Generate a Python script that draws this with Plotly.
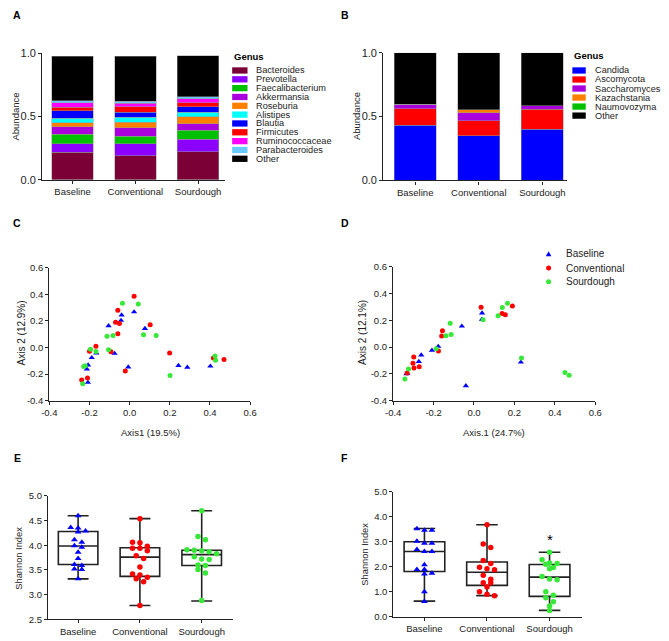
import plotly.graph_objects as go

W, H = 669, 641
FONT = "Liberation Sans, Arial, sans-serif"
INK = "#222222"

# ---------------- data ----------------
groups = ["Baseline", "Conventional", "Sourdough"]

bac_genus = ["Bacteroides", "Prevotella", "Faecalibacterium", "Akkermansia", "Roseburia",
             "Alistipes", "Blautia", "Firmicutes", "Ruminococcaceae", "Parabacteroides", "Other"]
bac_baseline = [0.218, 0.068, 0.075, 0.057, 0.031, 0.039, 0.057, 0.029, 0.034, 0.018, 0.351]
bac_conventional = [0.190, 0.093, 0.062, 0.068, 0.042, 0.041, 0.039, 0.042, 0.028, 0.018, 0.354]
bac_sourdough = [0.223, 0.099, 0.070, 0.052, 0.055, 0.036, 0.044, 0.029, 0.034, 0.015, 0.325]

fun_genus = ["Candida", "Ascomycota", "Saccharomyces", "Kazachstania", "Naumovozyma", "Other"]
fun_baseline = [0.431, 0.131, 0.033, 0.0, 0.0, 0.405]
fun_conventional = [0.351, 0.116, 0.064, 0.023, 0.0, 0.446]
fun_sourdough = [0.400, 0.156, 0.029, 0.0, 0.0, 0.415]

# PCoA (panel C)
c_base_x = [0.022, -0.040, -0.043, -0.105, 0.076, -0.166, -0.075, -0.189, -0.207, -0.213, -0.208, -0.007, 0.243, 0.287, 0.402]
c_base_y = [0.268, 0.244, 0.204, 0.163, 0.143, -0.041, -0.044, -0.076, -0.132, -0.162, -0.262, -0.147, -0.135, -0.149, -0.140]
c_conv_x = [0.022, -0.059, -0.070, -0.051, -0.059, 0.102, -0.168, -0.200, -0.093, -0.022, 0.199, -0.210, -0.239, 0.417, 0.470]
c_conv_y = [0.386, 0.281, 0.190, 0.180, 0.104, 0.172, 0.010, -0.027, -0.031, -0.176, -0.041, -0.228, -0.243, -0.078, -0.090]
c_sour_x = [-0.036, 0.043, -0.113, -0.083, 0.069, 0.132, -0.195, -0.168, -0.105, -0.221, -0.229, -0.234, 0.201, 0.425, 0.428]
c_sour_y = [0.332, 0.327, 0.084, 0.091, 0.096, 0.091, -0.012, -0.029, -0.017, -0.137, -0.142, -0.272, -0.211, -0.063, -0.095]

# PCoA (panel D)
d_base_x = [0.040, 0.039, -0.060, -0.177, -0.208, -0.261, -0.273, -0.334, -0.330, -0.040, 0.232]
d_base_y = [0.254, 0.207, 0.156, 0.005, -0.024, -0.059, -0.107, -0.200, -0.195, -0.288, -0.112]
d_conv_x = [0.035, 0.190, 0.139, 0.155, -0.156, -0.160, -0.176, -0.298, -0.302, -0.297, -0.271, -0.331]
d_conv_y = [0.298, 0.307, 0.251, 0.241, 0.122, 0.083, -0.029, -0.073, -0.120, -0.156, -0.146, -0.193]
d_sour_x = [0.166, 0.140, 0.119, 0.045, -0.118, -0.113, -0.139, -0.187, -0.324, -0.342, 0.235, 0.450, 0.471]
d_sour_y = [0.327, 0.295, 0.234, 0.205, 0.178, 0.095, 0.085, -0.012, -0.163, -0.237, -0.080, -0.190, -0.210]

# Shannon index (panel E, bacteria)
e_base = [4.60, 4.36, 4.35, 4.29, 4.27, 4.11, 4.06, 3.99, 3.96, 3.86, 3.73, 3.61, 3.59, 3.52, 3.51, 3.32]
e_conv = [4.54, 4.06, 4.05, 3.98, 3.94, 3.94, 3.89, 3.79, 3.73, 3.56, 3.42, 3.40, 3.35, 3.32, 3.26, 2.78]
e_sour = [4.70, 4.18, 4.11, 3.91, 3.90, 3.89, 3.87, 3.83, 3.77, 3.72, 3.71, 3.60, 3.59, 3.51, 3.44, 2.88]
e_q1 = [3.61, 3.37, 3.59]
e_med = [3.985, 3.76, 3.81]
e_q3 = [4.28, 3.95, 3.90]
e_lo = [3.32, 2.78, 2.87]
e_hi = [4.60, 4.54, 4.70]

# Shannon index (panel F, fungi)
f_base = [3.52, 3.46, 3.46, 3.02, 2.94, 2.94, 2.69, 2.61, 2.61, 2.08, 1.89, 1.89, 1.74, 1.71, 1.00, 0.61]
f_conv = [3.68, 2.91, 2.77, 2.25, 2.13, 1.98, 1.92, 1.88, 1.66, 1.50, 1.36, 1.36, 1.19, 1.00, 0.90, 0.84]
f_sour = [2.58, 2.28, 2.15, 2.13, 2.10, 1.97, 1.92, 1.61, 1.51, 1.48, 1.00, 0.86, 0.76, 0.60, 0.43, 0.25]
f_q1 = [1.81, 1.25, 0.81]
f_med = [2.61, 1.78, 1.58]
f_q3 = [3.00, 2.19, 2.09]
f_lo = [0.62, 0.84, 0.25]
f_hi = [3.53, 3.68, 2.58]

pcoa_ticks = [-0.4, -0.2, 0.0, 0.2, 0.4, 0.6]
pcoa_ticktext = ["-0.4", "-0.2", "0.0", "0.2", "0.4", "0.6"]

# ---------------- styles ----------------
bac_colors = ["#7A0035", "#8B00FF", "#00C000", "#AA00DD", "#FF8000", "#00FFFF",
              "#0000FF", "#FF0000", "#FF00FF", "#66CCFF", "#000000"]
fun_colors = ["#0000FF", "#FF0000", "#AA00DD", "#FF8000", "#00C000", "#000000"]
grp_colors = ["#0000FF", "#FF0000", "#38E838"]
grp_symbols = ["triangle-up", "circle", "circle"]


def px(x):
    return x / W


def py(y):
    return 1 - y / H


fig = go.Figure()

# ---- Panel A: stacked bars
for i, g in enumerate(bac_genus):
    fig.add_trace(go.Bar(
        x=groups, y=[bac_baseline[i], bac_conventional[i], bac_sourdough[i]],
        name=g, marker=dict(color=bac_colors[i], line=dict(color="#9a9a9a", width=0.5)),
        width=0.66, xaxis="x", yaxis="y", showlegend=False))

# ---- Panel B: stacked bars
for i, g in enumerate(fun_genus):
    fig.add_trace(go.Bar(
        x=groups, y=[fun_baseline[i], fun_conventional[i], fun_sourdough[i]],
        name=g, marker=dict(color=fun_colors[i], line=dict(color="#9a9a9a", width=0.5)),
        width=0.66, xaxis="x2", yaxis="y2", showlegend=False))

# ---- Panel C / D: PCoA scatter
c_sets = [(c_base_x, c_base_y), (c_conv_x, c_conv_y), (c_sour_x, c_sour_y)]
d_sets = [(d_base_x, d_base_y), (d_conv_x, d_conv_y), (d_sour_x, d_sour_y)]
for k in range(3):
    sz = 5.5 if k == 0 else 5
    fig.add_trace(go.Scatter(x=c_sets[k][0], y=c_sets[k][1], mode="markers", name=groups[k],
                             marker=dict(color=grp_colors[k], symbol=grp_symbols[k], size=sz),
                             xaxis="x3", yaxis="y3", showlegend=False))
    fig.add_trace(go.Scatter(x=d_sets[k][0], y=d_sets[k][1], mode="markers", name=groups[k],
                             marker=dict(color=grp_colors[k], symbol=grp_symbols[k], size=sz),
                             xaxis="x4", yaxis="y4", showlegend=False))


def swarm(vals, center, px_per_unit, gap_px=4.2, step=0.12):
    """Column-scatter offsets: group values closer than gap_px and spread them."""
    order = sorted(range(len(vals)), key=lambda j: -vals[j])
    xs = [center] * len(vals)
    clusters = []
    for j in order:
        if clusters and vals[clusters[-1][0]] - vals[j] < gap_px / px_per_unit:
            clusters[-1].append(j)
        else:
            clusters.append([j])
    for cl in clusters:
        n = len(cl)
        for m, j in enumerate(cl):
            xs[j] = center + (m - (n - 1) / 2) * step
    return xs


# ---- Panel E / F: boxes + points
e_vals = [e_base, e_conv, e_sour]
f_vals = [f_base, f_conv, f_sour]
e_ppu = (625 - 499.3) / 2.5
f_ppu = (622.3 - 495) / 5.0
for k in range(3):
    fig.add_trace(go.Box(x=[k], q1=[e_q1[k]], median=[e_med[k]], q3=[e_q3[k]],
                         lowerfence=[e_lo[k]], upperfence=[e_hi[k]], width=0.64,
                         whiskerwidth=0.53, fillcolor="rgba(0,0,0,0)",
                         line=dict(color=INK, width=1.6), boxpoints=False,
                         xaxis="x5", yaxis="y5", showlegend=False))
    fig.add_trace(go.Box(x=[k], q1=[f_q1[k]], median=[f_med[k]], q3=[f_q3[k]],
                         lowerfence=[f_lo[k]], upperfence=[f_hi[k]], width=0.65,
                         whiskerwidth=0.53, fillcolor="rgba(0,0,0,0)",
                         line=dict(color=INK, width=1.6), boxpoints=False,
                         xaxis="x6", yaxis="y6", showlegend=False))
for k in range(3):
    sz = 6 if k == 0 else 5.5
    fig.add_trace(go.Scatter(x=swarm(e_vals[k], k, e_ppu), y=e_vals[k], mode="markers",
                             marker=dict(color=grp_colors[k], symbol=grp_symbols[k], size=sz),
                             xaxis="x5", yaxis="y5", showlegend=False))
    fig.add_trace(go.Scatter(x=swarm(f_vals[k], k, f_ppu), y=f_vals[k], mode="markers",
                             marker=dict(color=grp_colors[k], symbol=grp_symbols[k], size=sz),
                             xaxis="x6", yaxis="y6", showlegend=False))

# ---------------- axes ----------------
base = dict(showline=True, linecolor=INK, linewidth=1.4, ticks="outside", ticklen=3,
            tickwidth=1.2, tickcolor=INK, showgrid=False, zeroline=False,
            tickfont=dict(family=FONT, size=9.5, color=INK))


def ax(**kw):
    d = dict(base)
    d.update(kw)
    return d


big = dict(family=FONT, size=11, color=INK)
layout = dict(
    xaxis=ax(domain=[px(35), px(222)], anchor="y", range=[-0.484, 2.43], type="category"),
    yaxis=ax(domain=[py(177), py(48.3)], anchor="x", range=[0, 1.0],
             tickvals=[0, 0.5, 1.0], ticktext=["0.0", "0.5", "1.0"], tickfont=big),
    xaxis2=ax(domain=[px(384), px(572)], anchor="y2", range=[-0.5, 2.39], type="category"),
    yaxis2=ax(domain=[py(177.7), py(47.7)], anchor="x2", range=[0, 1.0],
              tickvals=[0, 0.5, 1.0], ticktext=["0.0", "0.5", "1.0"], tickfont=big),
    xaxis3=ax(domain=[px(42.3), px(247.7)], anchor="y3", range=[-0.4, 0.6],
              tickvals=pcoa_ticks, ticktext=pcoa_ticktext),
    yaxis3=ax(domain=[py(402.3), py(266.7)], anchor="x3", range=[-0.4, 0.6],
              tickvals=pcoa_ticks, ticktext=pcoa_ticktext),
    xaxis4=ax(domain=[px(394), px(600.7)], anchor="y4", range=[-0.4, 0.6],
              tickvals=pcoa_ticks, ticktext=pcoa_ticktext),
    yaxis4=ax(domain=[py(402.3), py(265.7)], anchor="x4", range=[-0.4, 0.6],
              tickvals=pcoa_ticks, ticktext=pcoa_ticktext),
    xaxis5=ax(domain=[px(41), px(230)], anchor="y5", range=[-0.486, 2.504],
              tickvals=[0, 1, 2], ticktext=groups),
    yaxis5=ax(domain=[py(625), py(499.3)], anchor="x5", range=[2.5, 5.0],
              tickvals=[2.5, 3.0, 3.5, 4.0, 4.5, 5.0],
              ticktext=["2.5", "3.0", "3.5", "4.0", "4.5", "5.0"]),
    xaxis6=ax(domain=[px(394.3), px(586.7)], anchor="y6", range=[-0.495, 2.511],
              tickvals=[0, 1, 2], ticktext=groups),
    yaxis6=ax(domain=[py(622.3), py(495)], anchor="x6", range=[0, 5.0],
              tickvals=[0, 1, 2, 3, 4, 5],
              ticktext=["0.0", "1.0", "2.0", "3.0", "4.0", "5.0"]),
)

annotations = []
shapes = []


def text(x, y, s, size=9.5, angle=0, anchor="center", bold=False):
    annotations.append(dict(x=px(x), y=py(y), xref="paper", yref="paper", text=("<b>%s</b>" % s) if bold else s,
                            showarrow=False, xanchor=anchor, yanchor="middle", textangle=angle,
                            font=dict(family=FONT, size=size, color=INK if not bold else "#000")))


# panel letters
for letter, x, y in [("A", 9.5, 9.5), ("B", 344.5, 9.5), ("C", 9.5, 221.5),
                     ("D", 344.5, 221.5), ("E", 9.5, 460.5), ("F", 344.5, 460.5)]:
    text(x, y, letter, size=10.5, bold=True)

# axis titles
text(7.3, 112.5, "Abundance", angle=-90)
text(356.7, 112.5, "Abundance", angle=-90)
text(13.3, 333.7, "Axis 2 (12.9%)", size=10, angle=-90)
text(145.7, 435, "Axis1 (19.5%)", size=9.5)
text(363.3, 333, "Axis 2 (12.1%)", size=10, angle=-90)
text(496.7, 435, "Axis.1 (24.7%)", size=9.5)
text(11, 562.5, "Shannon Index", size=9.3, angle=-90)
text(365, 558.3, "Shannon Index", size=9.3, angle=-90)

# legend A
text(229.3, 51.7, "Genus", size=9.5, anchor="left", bold=True)
for i, g in enumerate(bac_genus):
    yc = 65.7 + i * 9.0
    shapes.append(dict(type="rect", xref="paper", yref="paper", x0=px(229.3), x1=px(245),
                       y0=py(yc + 3.2), y1=py(yc - 3.2), fillcolor=bac_colors[i], line=dict(width=0)))
    text(251.7, yc, g, size=9.2, anchor="left")

# legend B
text(577.3, 50.7, "Genus", size=9.5, anchor="left", bold=True)
for i, g in enumerate(fun_genus):
    yc = 65.7 + i * 9.2
    shapes.append(dict(type="rect", xref="paper", yref="paper", x0=px(577.3), x1=px(591),
                       y0=py(yc + 3.2), y1=py(yc - 3.2), fillcolor=fun_colors[i], line=dict(width=0)))
    text(598.3, yc, g, size=9.2, anchor="left")

# legend D (markers drawn as pixel-sized shapes)
for k, yc in enumerate([252.7, 267.0, 281.0]):
    if grp_symbols[k] == "circle":
        shapes.append(dict(type="circle", xref="paper", yref="paper", xsizemode="pixel",
                           ysizemode="pixel", xanchor=px(553), yanchor=py(yc),
                           x0=-2.5, x1=2.5, y0=-2.5, y1=2.5, fillcolor=grp_colors[k],
                           line=dict(width=0)))
    else:
        shapes.append(dict(type="path", xref="paper", yref="paper", xsizemode="pixel",
                           ysizemode="pixel", xanchor=px(553), yanchor=py(yc),
                           path="M -2.8,-2.2 L 2.8,-2.2 L 0,2.8 Z", fillcolor=grp_colors[k],
                           line=dict(width=0)))
    text(569, yc, groups[k], size=10, anchor="left")

# significance marker in F
annotations.append(dict(x=2, y=3.1, xref="x6", yref="y6", text="*", showarrow=False,
                        font=dict(family=FONT, size=15, color="#000")))

fig.update_layout(**layout)
fig.update_layout(
    barmode="stack", width=W, height=H, autosize=False,
    margin=dict(l=0, r=0, t=0, b=0), paper_bgcolor="white", plot_bgcolor="white",
    showlegend=False, annotations=annotations, shapes=shapes,
    font=dict(family=FONT, size=9.5, color=INK),
)

fig.write_html("out.html", config={"displayModeBar": False},
               post_script="document.body.style.margin='0px';document.body.style.overflow='hidden';")
